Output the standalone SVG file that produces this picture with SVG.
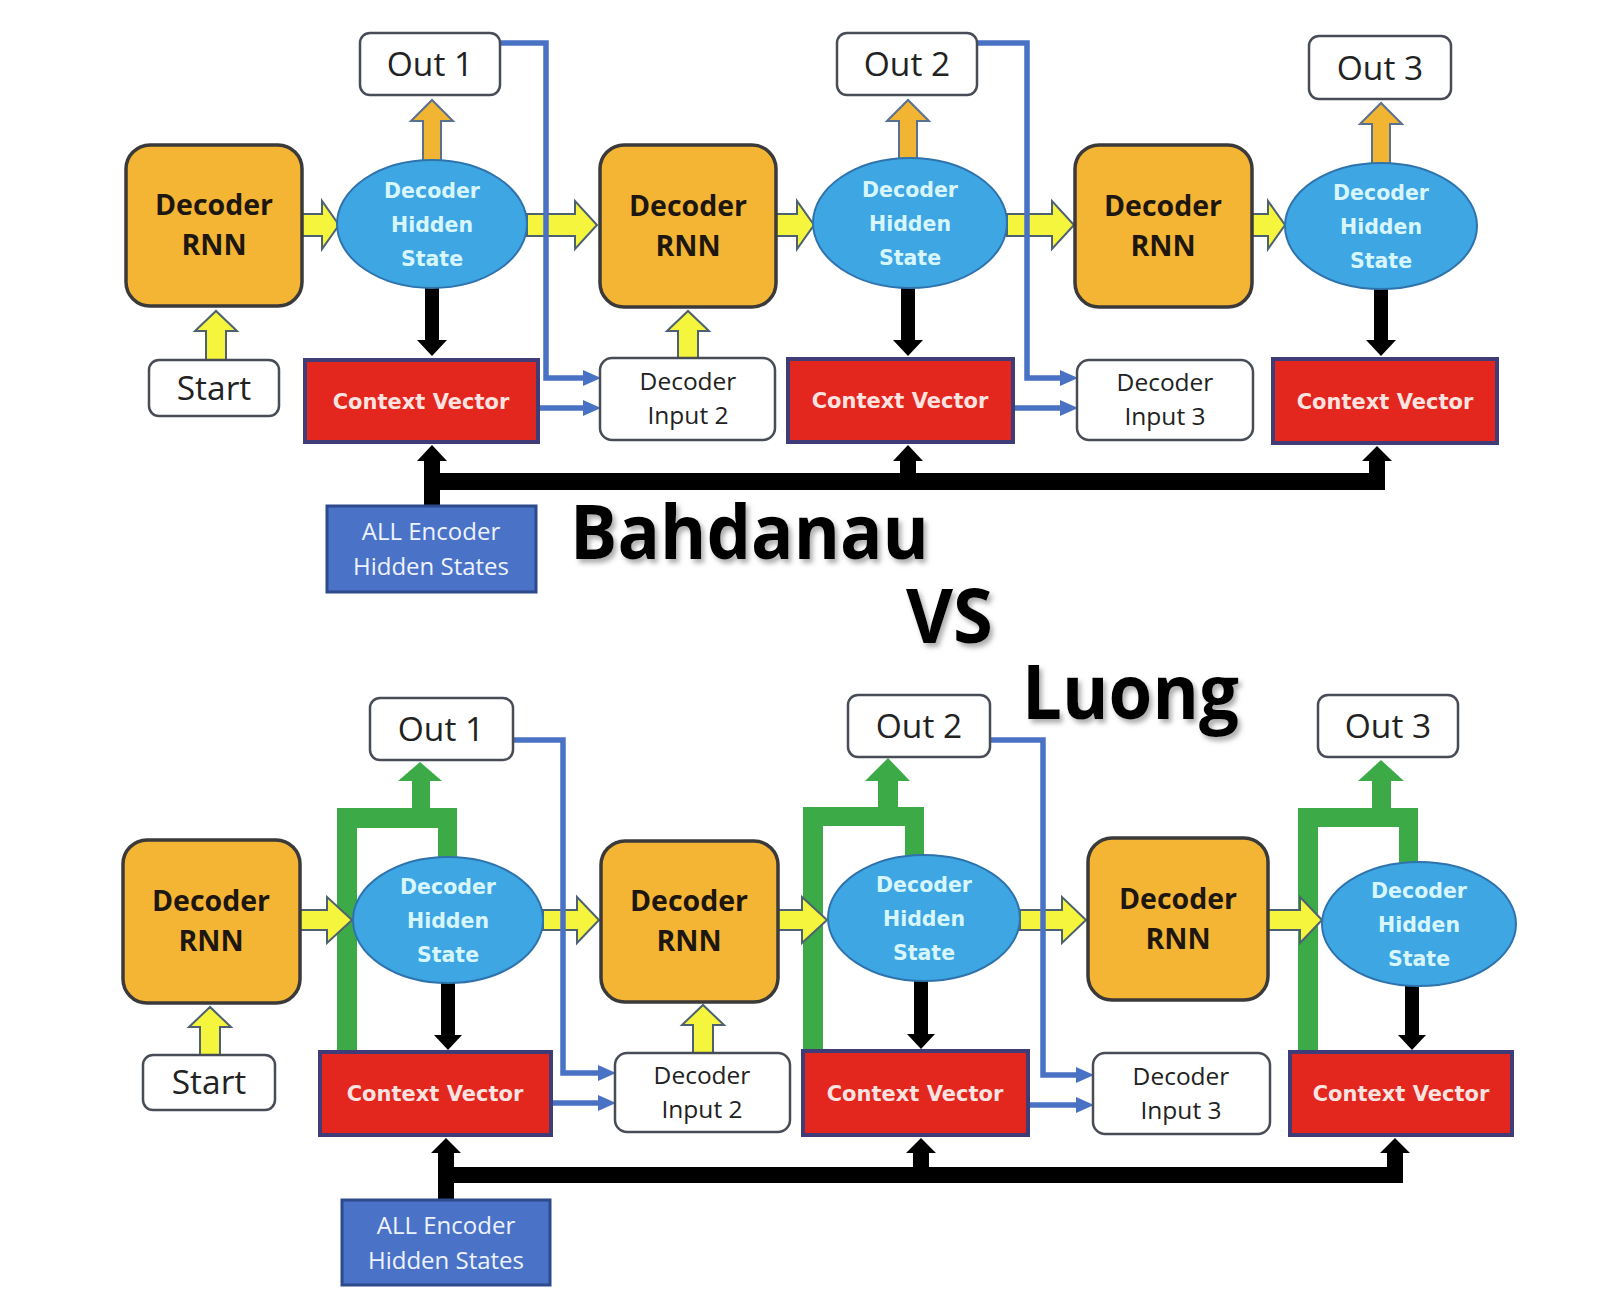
<svg xmlns="http://www.w3.org/2000/svg" width="1622" height="1316" viewBox="0 0 1622 1316">
<defs>
<marker id="ba" markerUnits="userSpaceOnUse" markerWidth="18" markerHeight="18" viewBox="0 0 18 18" refX="9" refY="9" orient="auto"><path d="M0,1 L18,9 L0,17 Z" fill="#4a72c4"/></marker>
<filter id="sh" x="-10%" y="-10%" width="130%" height="140%"><feDropShadow dx="3" dy="4" stdDeviation="2.5" flood-color="#777" flood-opacity="0.6"/></filter>
</defs>
<style>
.rnn{fill:#f4b535;stroke:#3a3a3a;stroke-width:3.5}
.hid{fill:#3da6e3;stroke:#2f73ad;stroke-width:2}
.cv{fill:#e3261e;stroke:#3f3c78;stroke-width:4}
.box{fill:#fff;stroke:#474c57;stroke-width:2.5}
.enc{fill:#4a73c8;stroke:#2d4b8c;stroke-width:3}
.t-rnn{font-family:"Open Sans","Liberation Sans",sans-serif;font-weight:700;font-size:28.5px;fill:#1d1710;text-anchor:middle}
.t-hid{font-family:"DejaVu Sans",sans-serif;font-weight:700;font-size:20.5px;fill:#d8f6ff;text-anchor:middle}
.t-cv{font-family:"DejaVu Sans",sans-serif;font-weight:700;font-size:21px;fill:#ffe3e0;text-anchor:middle}
.t-out{font-family:"Open Sans","Liberation Sans",sans-serif;font-size:33.5px;fill:#222;text-anchor:middle}
.t-di{font-family:"Open Sans","Liberation Sans",sans-serif;font-size:24.5px;fill:#222;text-anchor:middle}
.t-enc{font-family:"Open Sans","Liberation Sans",sans-serif;font-size:24px;fill:#eef2ff;text-anchor:middle}
.yel{fill:#f4f53c;stroke:#4d6170;stroke-width:2}
.org{fill:#f1b433;stroke:#5a7090;stroke-width:2}
.blk{fill:#000}
.grn{fill:#3cab47}
.blue{fill:none;stroke:#4a72c4;stroke-width:5.5;marker-end:url(#ba)}
.title{font-family:"Open Sans","Liberation Sans",sans-serif;font-weight:700;font-size:75px;fill:#000;filter:url(#sh)}
</style>
<rect width="1622" height="1316" fill="#fff"/>

<g id="connectors">
  <!-- green (Luong) -->
  <path class="grn" d="M337,1052 V808 H457 V862 H438 V828 H357 V1052 Z"/>
  <path class="grn" d="M412,809 V781 H398 L420,762 L442,781 H430 V809 Z"/>
  <path class="grn" d="M803,1051 V807 H924 V862 H905 V826 H823 V1051 Z"/>
  <path class="grn" d="M878,808 V781 H865 L888,758 L910,781 H898 V808 Z"/>
  <path class="grn" d="M1298,1052 V808 H1418 V872 H1399 V827 H1318 V1052 Z"/>
  <path class="grn" d="M1372,809 V781 H1358 L1381,760 L1404,781 H1391 V809 Z"/>
  <!-- black down arrows -->
  <path class="blk" d="M425,286 H439 V340 H447 L432,356 L417,340 H425 Z"/>
  <path class="blk" d="M901,286 H915 V340 H923 L908,356 L893,340 H901 Z"/>
  <path class="blk" d="M1374,287 H1388 V340 H1396 L1381,356 L1366,340 H1374 Z"/>
  <path class="blk" d="M441,980 H455 V1035 H462 L448,1050 L434,1035 H441 Z"/>
  <path class="blk" d="M914,978 H928 V1034 H935 L921,1049 L907,1034 H914 Z"/>
  <path class="blk" d="M1405,983 H1419 V1035 H1426 L1412,1050 L1398,1035 H1405 Z"/>
  <!-- encoder buses -->
  <path class="blk" d="M424,506 V461 H417 L432,445 L447,461 H440 V473 H900 V461 H893 L908,445 L923,461 H916 V473 H1369 V461 H1362 L1377,446 L1392,461 H1385 V490 H440 V506 Z"/>
  <path class="blk" d="M438,1200 V1153 H431 L446,1138 L461,1153 H454 V1167 H913 V1153 H906 L921,1138 L936,1153 H929 V1167 H1387 V1153 H1380 L1395,1138 L1410,1153 H1403 V1183 H454 V1200 Z"/>
  <!-- orange arrows (Bahdanau) -->
  <polygon class="org" points="423,163 423,121 411,121 432,100 453,121 441,121 441,163"/>
  <polygon class="org" points="899,161 899,121 887,121 908,100 929,121 917,121 917,161"/>
  <polygon class="org" points="1372,166 1372,124 1360,124 1381,103 1402,124 1390,124 1390,166"/>
  <!-- yellow arrows -->
  <polygon class="yel" points="302,214 322,214 322,201 339,225 322,249 322,236 302,236"/>
  <polygon class="yel" points="527,214 575,214 575,201 597,225 575,249 575,236 527,236"/>
  <polygon class="yel" points="776,214 797,214 797,201 814,225 797,249 797,236 776,236"/>
  <polygon class="yel" points="1007,214 1052,214 1052,201 1074,225 1052,249 1052,236 1007,236"/>
  <polygon class="yel" points="1252,214 1268,214 1268,201 1285,225 1268,249 1268,236 1252,236"/>
  <polygon class="yel" points="300,910 327,910 327,897 352,920 327,943 327,930 300,930"/>
  <polygon class="yel" points="543,910 577,910 577,897 599,920 577,943 577,930 543,930"/>
  <polygon class="yel" points="778,910 802,910 802,897 827,920 802,943 802,930 778,930"/>
  <polygon class="yel" points="1020,910 1062,910 1062,897 1086,920 1062,943 1062,930 1020,930"/>
  <polygon class="yel" points="1268,910 1300,910 1300,897 1322,920 1300,943 1300,930 1268,930"/>
  <polygon class="yel" points="206,360 206,331 195,331 216,311 237,331 226,331 226,360"/>
  <polygon class="yel" points="678,358 678,331 667,331 688,311 709,331 698,331 698,358"/>
  <polygon class="yel" points="200,1055 200,1027 189,1027 210,1007 231,1027 220,1027 220,1055"/>
  <polygon class="yel" points="693,1053 693,1025 682,1025 703,1005 724,1025 713,1025 713,1053"/>
  <!-- blue connectors -->
  <path class="blue" d="M500,43 H546 V378 H592"/>
  <path class="blue" d="M538,408 H592"/>
  <path class="blue" d="M977,43 H1027 V378 H1069"/>
  <path class="blue" d="M1013,408 H1069"/>
  <path class="blue" d="M513,740 H563 V1073 H607"/>
  <path class="blue" d="M551,1103 H607"/>
  <path class="blue" d="M990,740 H1043 V1075 H1085"/>
  <path class="blue" d="M1028,1105 H1085"/>
</g>

<!-- Top (Bahdanau) -->
<g id="rnn-t1"><rect class="rnn" x="126" y="145" width="176" height="161" rx="24"/><text class="t-rnn" x="214" y="215">Decoder</text><text class="t-rnn" x="214" y="255">RNN</text></g>
<g id="rnn-t2"><rect class="rnn" x="600" y="145" width="176" height="162" rx="24"/><text class="t-rnn" x="688" y="216">Decoder</text><text class="t-rnn" x="688" y="256">RNN</text></g>
<g id="rnn-t3"><rect class="rnn" x="1075" y="145" width="177" height="162" rx="24"/><text class="t-rnn" x="1163" y="216">Decoder</text><text class="t-rnn" x="1163" y="256">RNN</text></g>
<g id="hid-t1"><ellipse class="hid" cx="432" cy="224" rx="95" ry="64"/><text class="t-hid" x="432" y="198">Decoder</text><text class="t-hid" x="432" y="232">Hidden</text><text class="t-hid" x="432" y="266">State</text></g>
<g id="hid-t2"><ellipse class="hid" cx="910" cy="223" rx="97" ry="65"/><text class="t-hid" x="910" y="197">Decoder</text><text class="t-hid" x="910" y="231">Hidden</text><text class="t-hid" x="910" y="265">State</text></g>
<g id="hid-t3"><ellipse class="hid" cx="1381" cy="226" rx="96" ry="63"/><text class="t-hid" x="1381" y="200">Decoder</text><text class="t-hid" x="1381" y="234">Hidden</text><text class="t-hid" x="1381" y="268">State</text></g>
<g id="out-t1"><rect class="box" x="360" y="33" width="140" height="62" rx="10"/><text class="t-out" x="430" y="76">Out 1</text></g>
<g id="out-t2"><rect class="box" x="837" y="33" width="140" height="62" rx="10"/><text class="t-out" x="907" y="76">Out 2</text></g>
<g id="out-t3"><rect class="box" x="1309" y="36" width="142" height="63" rx="10"/><text class="t-out" x="1380" y="80">Out 3</text></g>
<g id="start-t"><rect class="box" x="149" y="360" width="130" height="56" rx="10"/><text class="t-out" x="214" y="400">Start</text></g>
<g id="cv-t1"><rect class="cv" x="305" y="360" width="233" height="82"/><text class="t-cv" x="421" y="409">Context Vector</text></g>
<g id="cv-t2"><rect class="cv" x="788" y="359" width="225" height="83"/><text class="t-cv" x="900" y="408">Context Vector</text></g>
<g id="cv-t3"><rect class="cv" x="1273" y="359" width="224" height="84"/><text class="t-cv" x="1385" y="409">Context Vector</text></g>
<g id="di-t2"><rect class="box" x="600" y="358" width="175" height="82" rx="12"/><text class="t-di" x="688" y="390">Decoder</text><text class="t-di" x="688" y="424">Input 2</text></g>
<g id="di-t3"><rect class="box" x="1077" y="360" width="176" height="80" rx="12"/><text class="t-di" x="1165" y="391">Decoder</text><text class="t-di" x="1165" y="425">Input 3</text></g>
<g id="enc-t"><rect class="enc" x="327" y="506" width="209" height="86"/><text class="t-enc" x="431" y="540">ALL Encoder</text><text class="t-enc" x="431" y="575">Hidden States</text></g>

<!-- Bottom (Luong) -->
<g id="rnn-b1"><rect class="rnn" x="123" y="840" width="177" height="163" rx="24"/><text class="t-rnn" x="211" y="911">Decoder</text><text class="t-rnn" x="211" y="951">RNN</text></g>
<g id="rnn-b2"><rect class="rnn" x="601" y="841" width="177" height="161" rx="24"/><text class="t-rnn" x="689" y="911">Decoder</text><text class="t-rnn" x="689" y="951">RNN</text></g>
<g id="rnn-b3"><rect class="rnn" x="1088" y="838" width="180" height="162" rx="24"/><text class="t-rnn" x="1178" y="909">Decoder</text><text class="t-rnn" x="1178" y="949">RNN</text></g>
<g id="hid-b1"><ellipse class="hid" cx="448" cy="920" rx="95" ry="63"/><text class="t-hid" x="448" y="894">Decoder</text><text class="t-hid" x="448" y="928">Hidden</text><text class="t-hid" x="448" y="962">State</text></g>
<g id="hid-b2"><ellipse class="hid" cx="924" cy="918" rx="96" ry="63"/><text class="t-hid" x="924" y="892">Decoder</text><text class="t-hid" x="924" y="926">Hidden</text><text class="t-hid" x="924" y="960">State</text></g>
<g id="hid-b3"><ellipse class="hid" cx="1419" cy="924" rx="97" ry="62"/><text class="t-hid" x="1419" y="898">Decoder</text><text class="t-hid" x="1419" y="932">Hidden</text><text class="t-hid" x="1419" y="966">State</text></g>
<g id="out-b1"><rect class="box" x="370" y="698" width="143" height="62" rx="10"/><text class="t-out" x="441" y="741">Out 1</text></g>
<g id="out-b2"><rect class="box" x="848" y="695" width="142" height="62" rx="10"/><text class="t-out" x="919" y="738">Out 2</text></g>
<g id="out-b3"><rect class="box" x="1318" y="695" width="140" height="62" rx="10"/><text class="t-out" x="1388" y="738">Out 3</text></g>
<g id="start-b"><rect class="box" x="143" y="1055" width="132" height="55" rx="10"/><text class="t-out" x="209" y="1094">Start</text></g>
<g id="cv-b1"><rect class="cv" x="320" y="1052" width="231" height="83"/><text class="t-cv" x="435" y="1101">Context Vector</text></g>
<g id="cv-b2"><rect class="cv" x="803" y="1051" width="225" height="84"/><text class="t-cv" x="915" y="1101">Context Vector</text></g>
<g id="cv-b3"><rect class="cv" x="1290" y="1052" width="222" height="83"/><text class="t-cv" x="1401" y="1101">Context Vector</text></g>
<g id="di-b2"><rect class="box" x="615" y="1053" width="175" height="79" rx="12"/><text class="t-di" x="702" y="1084">Decoder</text><text class="t-di" x="702" y="1118">Input 2</text></g>
<g id="di-b3"><rect class="box" x="1093" y="1053" width="177" height="81" rx="12"/><text class="t-di" x="1181" y="1085">Decoder</text><text class="t-di" x="1181" y="1119">Input 3</text></g>
<g id="enc-b"><rect class="enc" x="342" y="1200" width="208" height="85"/><text class="t-enc" x="446" y="1234">ALL Encoder</text><text class="t-enc" x="446" y="1269">Hidden States</text></g>

<g id="titles">
  <text class="title" x="570" y="559" textLength="359" lengthAdjust="spacingAndGlyphs">Bahdanau</text>
  <text class="title" x="906" y="643" textLength="87" lengthAdjust="spacingAndGlyphs">VS</text>
  <text class="title" x="1022" y="719" textLength="217" lengthAdjust="spacingAndGlyphs">Luong</text>
</g>
</svg>
